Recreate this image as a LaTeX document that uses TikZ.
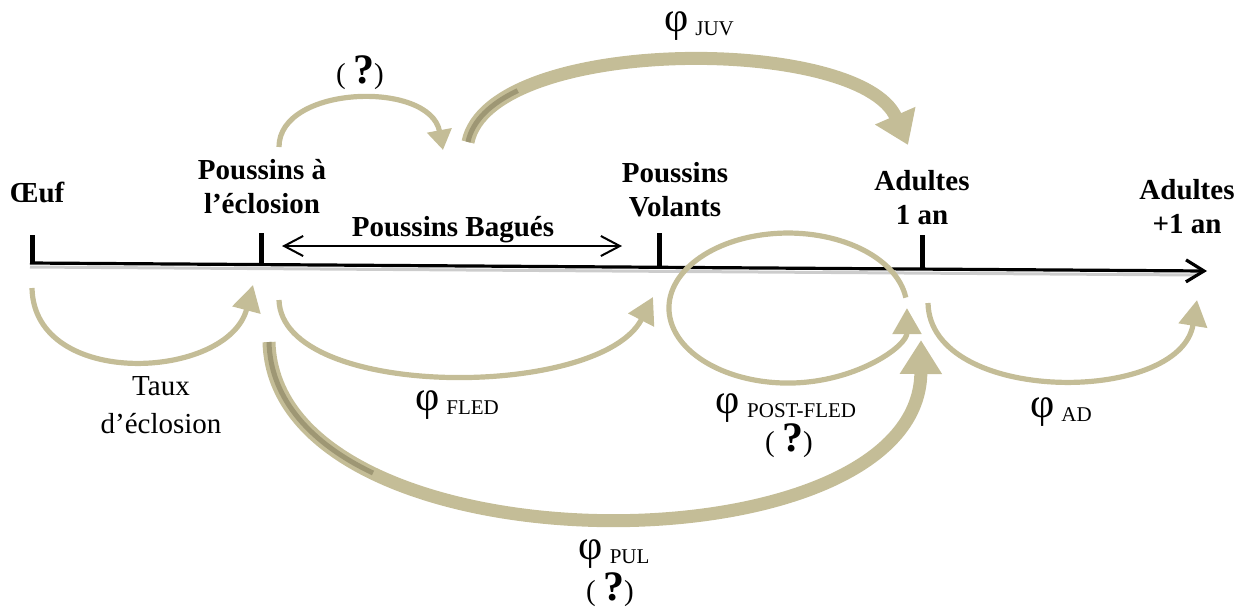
\documentclass[tikz,border=0pt]{standalone}
\usepackage{fontspec}
\setmainfont{Liberation Serif}
\usetikzlibrary{arrows.meta}
\definecolor{tanline}{HTML}{C4BD97}
\definecolor{tandark}{HTML}{9E9774}
\newcommand{\phiof}[1]{{\fontsize{21}{21}\selectfont\raisebox{2pt}{φ}}\hspace{3.5pt}{\fontsize{10.5}{12}\selectfont #1}}
\newcommand{\quest}{( {\fontsize{21}{21}\selectfont\bfseries ?})}
\tikzset{
  stage/.style={font=\fontsize{14.5}{17}\selectfont\bfseries, align=center, inner sep=0pt},
  rate/.style={font=\fontsize{14.5}{19}\selectfont, align=center, inner sep=0pt},
  stick/.style={line width=2.5pt},
  thinarc/.style={draw=tanline, line width=2.6pt, -{Triangle[length=13pt,width=14pt]}},
  thickarc/.style={draw=tanline, line width=6.5pt, -{Triangle[length=16pt,width=21pt]}},
  shade/.style={draw=tandark, line width=2.5pt},
  barb/.tip={Straight Barb[length=9.5pt,width=10pt]}
}
\begin{document}
\begin{tikzpicture}[x=0.5pt,y=0.5pt]
\useasboundingbox (0,0) rectangle (1246,-607);
\coordinate (a0) at (30,-263);
\coordinate (a1) at (1207,-271);
\coordinate (oeuf) at (32,-263);
\coordinate (eclo) at (261,-265);
\coordinate (vol) at (659,-267);
\coordinate (ad1) at (922,-269);
\draw [line width=1.5pt, black!20] (30,-267) -- (1198,-275);
\draw [line width=1.6pt, -{Straight Barb[length=9pt,width=11pt]}] (a0) -- (a1);
\draw [stick] (oeuf) -- ++(0,28);
\draw [stick] (eclo) -- ++(0,32);
\draw [stick] (vol) -- ++(0,34);
\draw [stick] (ad1) -- ++(0,34);
\node [stage] (l-oeuf) at (37,-192) {Œuf};
\node [stage] (l-eclo) at (262,-187) {Poussins à\\l’éclosion};
\node [stage] (l-vol) at (675,-190) {Poussins\\Volants};
\node [stage] (l-ad1) at (922,-198) {Adultes\\1 an};
\node [stage] (l-ad2) at (1187,-207) {Adultes\\+1 an};
\node [stage] (l-bag) at (453,-230) {Poussins Bagués};
\coordinate (bag-l) at (282,-246);
\coordinate (bag-r) at (622,-246);
\draw [barb-barb, line width=1pt] (bag-l) -- (bag-r);
\coordinate (taux-s) at (32,-288);
\coordinate (taux-e) at (253,-285);
\coordinate (fled-s) at (279,-300);
\coordinate (fled-e) at (653,-297);
\coordinate (post-s) at (905.8,-297.6);
\coordinate (ad-s) at (928,-303);
\coordinate (ad-e) at (1197,-300);
\coordinate (q-s) at (279,-147);
\coordinate (q-e) at (443,-150);
\coordinate (juv-s) at (468,-142);
\coordinate (juv-e) at (908,-145);
\coordinate (pul-s) at (269,-342);
\coordinate (pul-e) at (921,-340);
\draw [thinarc] (taux-s) .. controls +(2,-102) and +(-25,-95) .. (taux-e);
\draw [thinarc] (fled-s) .. controls +(3,-100) and +(-53,-103) .. (fled-e);
\draw [thinarc] (post-s) arc [start angle=8, end angle=360, x radius=59.5pt, y radius=37.5pt];
\draw [thinarc] (ad-s) .. controls +(2,-102) and +(-17,-105) .. (ad-e);
\draw [thinarc, -{Triangle[length=10pt,width=12pt]}] (q-s) .. controls +(0,62) and +(-13,70) .. (q-e);
\draw [thickarc] (juv-s) .. controls +(22,107) and +(-48,110) .. (juv-e);
\draw [shade] (juv-s) .. controls (472.4,-120.6) and (490.7,-103.5) .. (517.7,-90.6);
\draw [thickarc, -{Triangle[length=17pt,width=20pt]}] (pul-s) .. controls +(6,-233) and +(-1,-235) .. (pul-e);
\draw [shade] (pul-s) .. controls (270.5,-400) and (312,-444) .. (373,-473);
\node [rate] (r-taux) at (161,-405) {Taux\\d’éclosion};
\node [rate] (r-fled) at (457,-405) {\phiof{FLED}};
\node [rate] (r-post) at (786,-408) {\phiof{POST-FLED}};
\node [rate] (q-post) at (789,-441) {\quest};
\node [rate] (r-ad) at (1061,-412) {\phiof{AD}};
\node [rate] (r-pul) at (614,-554) {\phiof{PUL}};
\node [rate] (q-pul) at (610,-590) {\quest};
\node [rate] (r-juv) at (699,-26) {\phiof{JUV}};
\node [rate] (q-top) at (360,-73) {\quest};
\end{tikzpicture}
\end{document}
